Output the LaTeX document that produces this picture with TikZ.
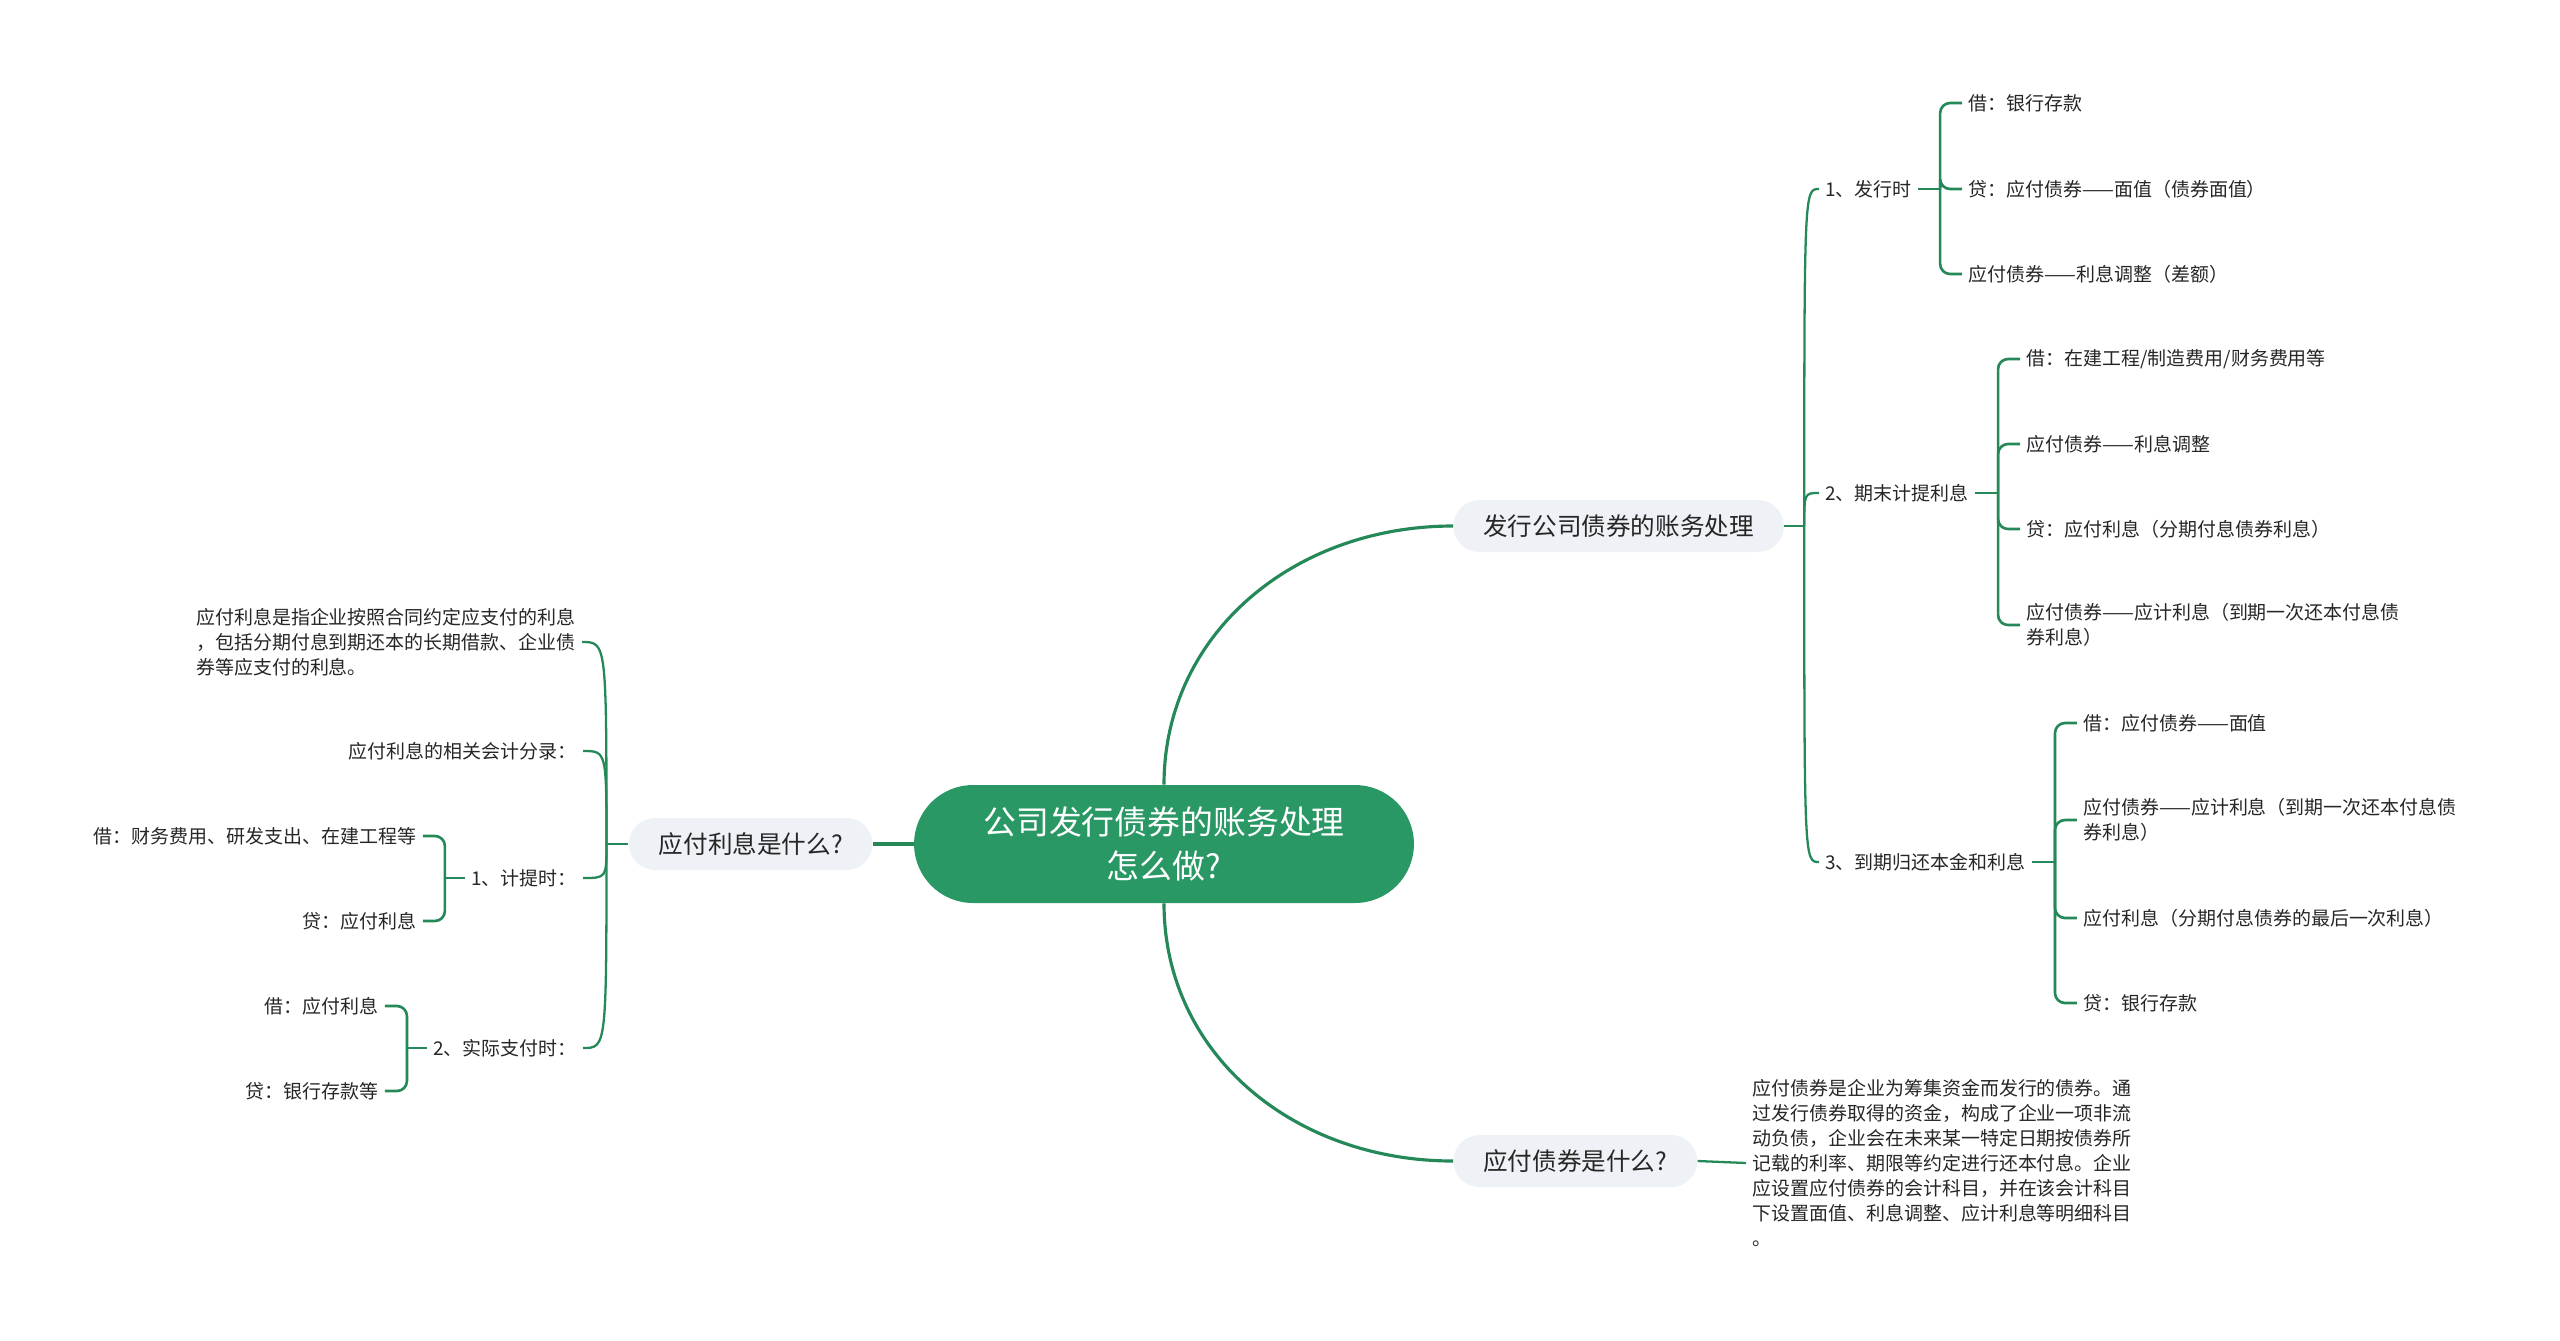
\documentclass[tikz,border=0pt]{standalone}
\usepackage{fontspec}
\setmainfont{Noto Sans CJK SC}
\usetikzlibrary{calc}

\begin{document}
\begin{tikzpicture}[x=0.02cm,y=-0.02cm]
  \definecolor{mapgreen}{RGB}{41,152,101}
  \definecolor{mapline}{RGB}{36,136,89}
  \definecolor{topicbg}{RGB}{238,241,245}
  \definecolor{ink}{RGB}{38,38,38}
  \tikzset{
    rootbox/.style={fill=mapgreen, text=white, rounded corners=1.18cm,
      minimum width=10cm, minimum height=2.36cm, align=center,
      font=\fontsize{18.7}{25}\selectfont},
    topic/.style={fill=topicbg, text=ink, rounded corners=0.52cm,
      inner xsep=0.6cm, minimum height=1.04cm,
      font=\fontsize{14}{17}\selectfont},
    leaf/.style={text=ink, inner xsep=0.12cm, inner ysep=0.04cm, align=left,
      font=\fontsize{10.8}{14.2}\selectfont},
    limb/.style={draw=mapline, line width=1.8pt},
    stem/.style={draw=mapline, line width=1.3pt},
    twig/.style={draw=mapline, line width=1.5pt, rounded corners=0.2cm},
  }
  \useasboundingbox (0,0) rectangle (2560,1340);

  % centre and main topics
  \node[rootbox] (root) at (1164,844) {公司发行债券的账务处理\\怎么做?};
  \node[topic, anchor=west] (bond) at (1453,526) {发行公司债券的账务处理};
  \node[topic, anchor=west] (what) at (1453,1161) {应付债券是什么?};
  \node[topic, anchor=east] (ints) at (873,844) {应付利息是什么?};

  \draw[limb] (root.north) .. controls ($(root.north)+(0,-150)$)
    and ($(bond.west)+(-160,0)$) .. (bond.west);
  \draw[limb] (root.south) .. controls ($(root.south)+(0,150)$)
    and ($(what.west)+(-160,0)$) .. (what.west);
  \draw[limb] (root.west) -- (ints.east);

  % right: bookkeeping steps
  \coordinate (jR) at ([xshift=0.4cm]bond.east);
  \draw[stem] (bond.east) -- (jR);
  \node[leaf, anchor=west] (a1) at (1819,189) {1、发行时};
  \node[leaf, anchor=west] (a2) at (1819,493) {2、期末计提利息};
  \node[leaf, anchor=west] (a3) at (1819,862) {3、到期归还本金和利息};
  \foreach \aa in {a1,a2,a3}
    \draw[stem] (jR) .. controls (jR |- \aa.west) .. (\aa.west);

  \coordinate (k1) at ([xshift=0.44cm]a1.east);
  \draw[twig] (a1.east) -- (k1);
  \foreach \yy/\txt [count=\i] in {103/{借：银行存款},
      189/{贷：应付债券——面值（债券面值）},
      274/{应付债券——利息调整（差额）}} {
    \node[leaf, anchor=west] (b1\i) at ($(k1 |- 0,\yy)+(22,0)$) {\txt};
    \draw[twig] (k1) |- (b1\i.west);
  }

  \coordinate (k2) at ([xshift=0.46cm]a2.east);
  \draw[twig] (a2.east) -- (k2);
  \foreach \yy/\txt [count=\i] in {359/{借：在建工程/制造费用/财务费用等},
      444/{应付债券——利息调整},
      529/{贷：应付利息（分期付息债券利息）},
      625/{应付债券——应计利息（到期一次还本付息债\\券利息）}} {
    \node[leaf, anchor=west] (b2\i) at ($(k2 |- 0,\yy)+(22,0)$) {\txt};
    \draw[twig] (k2) |- (b2\i.west);
  }

  \coordinate (k3) at ([xshift=0.46cm]a3.east);
  \draw[twig] (a3.east) -- (k3);
  \foreach \yy/\txt [count=\i] in {723/{借：应付债券——面值},
      820/{应付债券——应计利息（到期一次还本付息债\\券利息）},
      918/{应付利息（分期付息债券的最后一次利息）},
      1003/{贷：银行存款}} {
    \node[leaf, anchor=west] (b3\i) at ($(k3 |- 0,\yy)+(22,0)$) {\txt};
    \draw[twig] (k3) |- (b3\i.west);
  }

  % right: what is a payable bond
  \node[leaf, anchor=west] (wdesc) at (1746,1163)
    {应付债券是企业为筹集资金而发行的债券。通\\过发行债券取得的资金，构成了企业一项非流\\动负债，企业会在未来某一特定日期按债券所\\记载的利率、期限等约定进行还本付息。企业\\应设置应付债券的会计科目，并在该会计科目\\下设置面值、利息调整、应计利息等明细科目\\。};
  \draw[stem] (what.east) -- (wdesc.west);

  % left: payable interest
  \coordinate (jL) at ([xshift=-0.44cm]ints.west);
  \draw[stem] (ints.west) -- (jL);
  \node[leaf, anchor=east] (l1) at (582,642)
    {应付利息是指企业按照合同约定应支付的利息\\，包括分期付息到期还本的长期借款、企业债\\券等应支付的利息。};
  \node[leaf, anchor=east] (l2) at (583,751) {应付利息的相关会计分录：};
  \node[leaf, anchor=east] (l3) at (583,878) {1、计提时：};
  \node[leaf, anchor=east] (l4) at (583,1048) {2、实际支付时：};
  \foreach \ll in {l1,l2,l3,l4}
    \draw[stem] (jL) .. controls (jL |- \ll.east) .. (\ll.east);

  \coordinate (k4) at ([xshift=-0.4cm]l3.west);
  \draw[twig] (l3.west) -- (k4);
  \foreach \yy/\txt [count=\i] in {836/{借：财务费用、研发支出、在建工程等},
      921/{贷：应付利息}} {
    \node[leaf, anchor=east] (c1\i) at ($(k4 |- 0,\yy)+(-22,0)$) {\txt};
    \draw[twig] (k4) |- (c1\i.east);
  }

  \coordinate (k5) at ([xshift=-0.4cm]l4.west);
  \draw[twig] (l4.west) -- (k5);
  \foreach \yy/\txt [count=\i] in {1006/{借：应付利息},
      1091/{贷：银行存款等}} {
    \node[leaf, anchor=east] (c2\i) at ($(k5 |- 0,\yy)+(-22,0)$) {\txt};
    \draw[twig] (k5) |- (c2\i.east);
  }
\end{tikzpicture}
\end{document}
